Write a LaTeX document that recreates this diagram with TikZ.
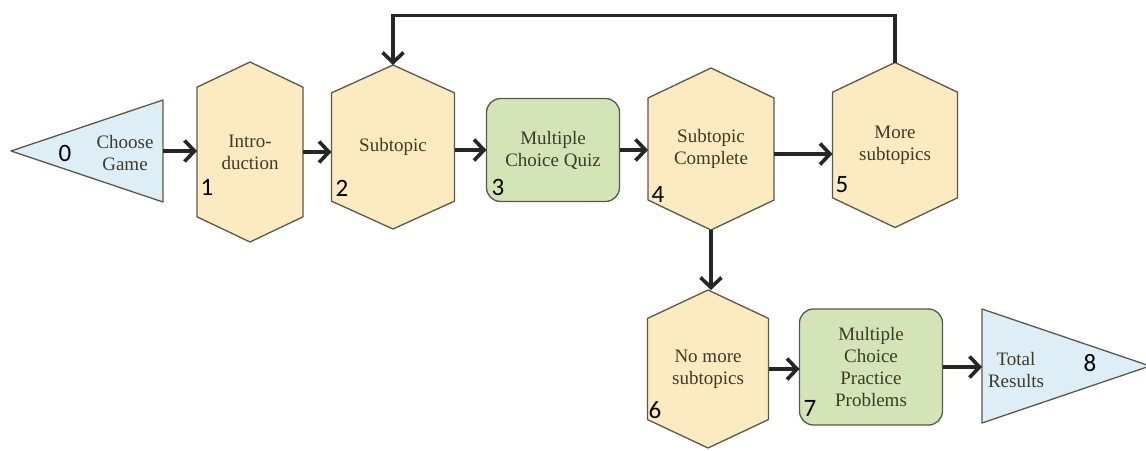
\documentclass[tikz,border=0pt]{standalone}
\usepackage{fontspec}
\setmainfont{Liberation Serif}
\newfontfamily\lblfont{Liberation Serif}
\newfontfamily\numfont{Carlito}
\usetikzlibrary{arrows.meta,positioning,calc,backgrounds}
\definecolor{Hc}{HTML}{FCEBC1}
\definecolor{Qc}{HTML}{D3E4B6}
\definecolor{Ec}{HTML}{DDEEF6}
\definecolor{edge}{HTML}{5A5848}
\definecolor{ink}{HTML}{3E3A28}
\tikzset{
  hexa/.style={inner sep=0pt, outer sep=0pt, align=center, text=ink, font=\lblfont\fontsize{19}{22}\selectfont},
  quiz/.style={draw=edge, fill=Qc, line width=1.3pt, rounded corners=14pt, inner sep=0pt, outer sep=0pt,
    align=center, text=ink, font=\lblfont\fontsize{19}{22}\selectfont},
  tri/.style={inner sep=0pt, outer sep=0pt},
  txt/.style={align=center, text=ink, font=\lblfont\fontsize{19}{22}\selectfont},
  num/.style={font=\numfont\fontsize{25}{25}\selectfont, inner sep=0pt},
  hexfill/.style={draw=edge, fill=Hc, line width=1.3pt, line join=round},
  trifill/.style={draw=edge, fill=Ec, line width=1.3pt, line join=round},
  flow/.style={-{Straight Barb[length=10pt,width=21pt]}, line width=3.6pt, black!85},
}
\newcommand{\hexoutline}[2]{% node, shoulder fraction
  \path[hexfill] (#1.north) -- ($(#1.north east)!#2!(#1.south east)$) -- ($(#1.south east)!#2!(#1.north east)$)
    -- (#1.south) -- ($(#1.south west)!#2!(#1.north west)$) -- ($(#1.north west)!#2!(#1.south west)$) -- cycle;}

\begin{document}
\begin{tikzpicture}[x=1pt, y=-1pt]
  \useasboundingbox (0,0) rectangle (1146,450);
  % top row
  \node[tri, minimum width=152, minimum height=102] (t0) at (87,151) {};
  \node[txt] (t0txt) at (125,153) {Choose\\Game};
  \node[hexa, minimum width=106, minimum height=180] (h1) at (250,152) {Intro-\\duction};
  \node[hexa, minimum width=123, minimum height=164] (h2) at (393,147) {Subtopic};
  \node[quiz, minimum width=133, minimum height=103] (b3) at (553,150) {Multiple\\Choice Quiz};
  \node[hexa, minimum width=126, minimum height=162] (h4) at (711,149) {Subtopic\\Complete};
  \node[hexa, minimum width=125, minimum height=165] (h5) at (895,145) {More\\subtopics};
  % bottom row
  \node[hexa, minimum width=121, minimum height=158] (h6) at (708,369) {No more\\subtopics};
  \node[quiz, minimum width=143, minimum height=116] (b7) at (871,367) {Multiple\\Choice\\Practice\\Problems};
  \node[tri, minimum width=168, minimum height=114] (t8) at (1066,366) {};
  \node[txt] (t8txt) at (1016,370) {Total\\Results};

  \begin{pgfonlayer}{background}
    \path[trifill] (t0.west) -- (t0.north east) -- (t0.south east) -- cycle;
    \path[trifill] (t8.east) -- (t8.north west) -- (t8.south west) -- cycle;
    \hexoutline{h1}{0.14}
    \hexoutline{h2}{0.17}
    \hexoutline{h4}{0.185}
    \hexoutline{h5}{0.18}
    \hexoutline{h6}{0.18}
  \end{pgfonlayer}

  \node[num] (n0) at (65,153) {0};
  \node[num] (n1) at (207,187) {1};
  \node[num] (n2) at (342,188) {2};
  \node[num] (n3) at (498,187) {3};
  \node[num] (n4) at (658,194) {4};
  \node[num] (n5) at (842,185) {5};
  \node[num] (n6) at (655,410) {6};
  \node[num] (n7) at (810,408) {7};
  \node[num] (n8) at (1090,363) {8};

  \draw[flow] (t0.east) -- (t0.east -| h1.west);
  \draw[flow] (h1.east) -- (h1.east -| h2.west);
  \draw[flow] (b3.west -| h2.east) -- (b3.west);
  \draw[flow] (b3.east) -- (b3.east -| h4.west);
  \draw[flow] ($(h4.east)+(0,5)$) -- ($(h4.east -| h5.west)+(0,5)$);
  \draw[flow] (h5.north) -- ++(0,-47) -| (h2.north);
  \draw[flow] (h4.south) -- (h4.south |- h6.north);
  \draw[flow] (h6.east) -- (h6.east -| b7.west);
  \draw[flow] (b7.east) -- (b7.east -| t8.west);
\end{tikzpicture}
\end{document}
